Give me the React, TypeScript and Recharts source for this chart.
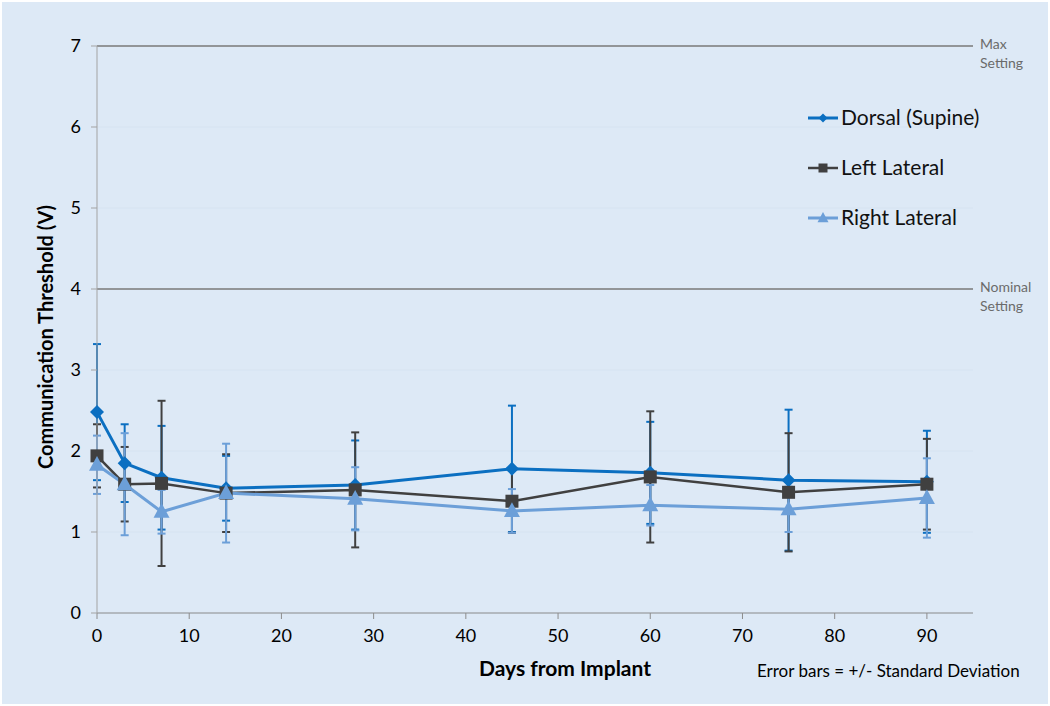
import React from "react";
import {
    LineChart,
    Line,
    XAxis,
    YAxis,
    CartesianGrid,
    ReferenceLine,
    ErrorBar,
    Legend,
} from "recharts";

const days = [0, 3, 7, 14, 28, 45, 60, 75, 90];
const dorsal = [2.48, 1.85, 1.67, 1.54, 1.58, 1.78, 1.73, 1.64, 1.62];
const dorsalSd = [0.84, 0.48, 0.64, 0.4, 0.55, 0.78, 0.63, 0.87, 0.63];
const leftLateral = [1.94, 1.59, 1.6, 1.48, 1.52, 1.38, 1.68, 1.49, 1.59];
const leftSd = [0.39, 0.46, 1.02, 0.48, 0.71, 0.39, 0.81, 0.73, 0.56];
const rightLateral = [1.83, 1.59, 1.25, 1.48, 1.41, 1.26, 1.33, 1.28, 1.42];
const rightSd = [0.36, 0.63, 0.27, 0.61, 0.39, 0.27, 0.25, 0.28, 0.49];

const xTicks = [0, 10, 20, 30, 40, 50, 60, 70, 80, 90];
const yTicks = [0, 1, 2, 3, 4, 5, 6, 7];
const settingValues = [7, 4];
const settingLabels = [
    ["Max", "Setting"],
    ["Nominal", "Setting"],
];

const FONT = "Lato, 'Open Sans', sans-serif";
const BG = "#dde9f6";

const DORSAL = "#0b6fc1";
const LEFT = "#404040";
const RIGHT = "#6c9fd8";

const chartData = days.map((d, i) => ({
    day: d,
    dorsal: dorsal[i],
    dorsalSd: dorsalSd[i],
    left: leftLateral[i],
    leftSd: leftSd[i],
    right: rightLateral[i],
    rightSd: rightSd[i],
}));

const drawMarker = (shape: string, cx: number, cy: number, color: string, s: number) => {
    if (shape === "diamond") {
        return (
            <path
                d={`M${cx},${cy - s}L${cx + s},${cy}L${cx},${cy + s}L${cx - s},${cy}Z`}
                fill={color}
            />
        );
    }
    if (shape === "square") {
        return <rect x={cx - s} y={cy - s} width={s * 2} height={s * 2} fill={color} />;
    }
    return (
        <path
            d={`M${cx},${cy - s * 1.1}L${cx + s},${cy + s * 0.75}L${cx - s},${cy + s * 0.75}Z`}
            fill={color}
        />
    );
};

const series = [
    { key: "dorsal", sd: "dorsalSd", name: "Dorsal (Supine)", color: DORSAL, shape: "diamond", size: 7, width: 3 },
    { key: "left", sd: "leftSd", name: "Left Lateral", color: LEFT, shape: "square", size: 6.5, width: 2.5 },
    { key: "right", sd: "rightSd", name: "Right Lateral", color: RIGHT, shape: "triangle", size: 8, width: 3 },
];

const makeDot = (shape: string, color: string, size: number) => (props: any) => {
    const { cx, cy, index } = props;
    if (cx == null || cy == null) return <g key={index} />;
    return <g key={index}>{drawMarker(shape, cx, cy, color, size)}</g>;
};

const SettingLabel = ({ viewBox, lines }: any) => {
    if (!viewBox) return null;
    const x = viewBox.x + viewBox.width + 7;
    const y = viewBox.y;
    return (
        <text x={x} y={y + 3} fill="#6b6b6b" fontSize={14} fontFamily={FONT}>
            <tspan x={x}>{lines[0]}</tspan>
            <tspan x={x} dy={19}>
                {lines[1]}
            </tspan>
        </text>
    );
};

const LegendBox = () => (
    <svg width={240} height={130}>
        {series.map((s, i) => {
            const y = 13 + i * 50;
            return (
                <g key={s.key}>
                    <line x1={3} x2={33} y1={y} y2={y} stroke={s.color} strokeWidth={s.width} />
                    {drawMarker(s.shape, 18, y, s.color, s.shape === "triangle" ? 5.5 : 4.5)}
                    <text x={36} y={y + 7} fontSize={21} fontFamily={FONT} fill="#111">
                        {s.name}
                    </text>
                </g>
            );
        })}
    </svg>
);

const App = () => {
    return (
        <div
            style={{
                position: "absolute",
                left: 0,
                top: 0,
                width: 1050,
                height: 706,
                background: "#fff",
                fontFamily: FONT,
            }}
        >
            <div
                style={{
                    position: "absolute",
                    left: 2,
                    top: 2,
                    width: 1046,
                    height: 702,
                    background: BG,
                }}
            />
            <div style={{ position: "absolute", left: 0, top: 0 }}>
                <LineChart
                    width={1050}
                    height={706}
                    data={chartData}
                    margin={{ top: 46, right: 77, bottom: 63, left: 37 }}
                >
                    <CartesianGrid vertical={false} stroke="#d6e3f1" strokeWidth={1} />
                    <XAxis
                        dataKey="day"
                        type="number"
                        domain={[0, 95]}
                        ticks={xTicks}
                        height={30}
                        tickSize={6}
                        tickMargin={10}
                        stroke="#8c8c8c"
                        tick={{ fill: "#000", fontSize: 18, fontFamily: FONT }}
                    />
                    <YAxis
                        type="number"
                        domain={[0, 7]}
                        ticks={yTicks}
                        width={60}
                        tickSize={6}
                        tickMargin={10}
                        stroke="#a3a3a3"
                        tick={{ fill: "#000", fontSize: 18, fontFamily: FONT }}
                    />
                    {settingValues.map((v, i) => (
                        <ReferenceLine
                            key={v}
                            y={v}
                            stroke="#7a7a7a"
                            strokeWidth={1.5}
                            label={<SettingLabel lines={settingLabels[i]} />}
                        />
                    ))}
                    <Legend
                        layout="horizontal"
                        verticalAlign="middle"
                        align="center"
                        wrapperStyle={{ left: 805, top: 105, width: 240, height: 130 }}
                        content={() => <LegendBox />}
                    />
                    {series.map((s) => (
                        <Line
                            key={s.key}
                            type="linear"
                            dataKey={s.key}
                            name={s.name}
                            stroke={s.color}
                            strokeWidth={s.width}
                            dot={makeDot(s.shape, s.color, s.size)}
                            activeDot={false}
                            isAnimationActive={false}
                        >
                            <ErrorBar
                                dataKey={s.sd}
                                direction="y"
                                width={4}
                                stroke={s.color}
                                strokeWidth={2}
                                isAnimationActive={false}
                            />
                        </Line>
                    ))}
                </LineChart>
            </div>
            <div
                style={{
                    position: "absolute",
                    left: 45,
                    top: 337,
                    transform: "translate(-50%, -50%) rotate(-90deg)",
                    whiteSpace: "nowrap",
                    fontWeight: 700,
                    fontSize: 20,
                    color: "#000",
                }}
            >
                Communication Threshold (V)
            </div>
            <div
                style={{
                    position: "absolute",
                    left: 565,
                    top: 667,
                    transform: "translate(-50%, -50%)",
                    whiteSpace: "nowrap",
                    fontWeight: 700,
                    fontSize: 21,
                    color: "#000",
                }}
            >
                Days from Implant
            </div>
            <div
                style={{
                    position: "absolute",
                    left: 757,
                    top: 670,
                    transform: "translateY(-50%)",
                    whiteSpace: "nowrap",
                    fontSize: 17,
                    color: "#000",
                }}
            >
                Error bars = +/- Standard Deviation
            </div>
        </div>
    );
};

export default App;
